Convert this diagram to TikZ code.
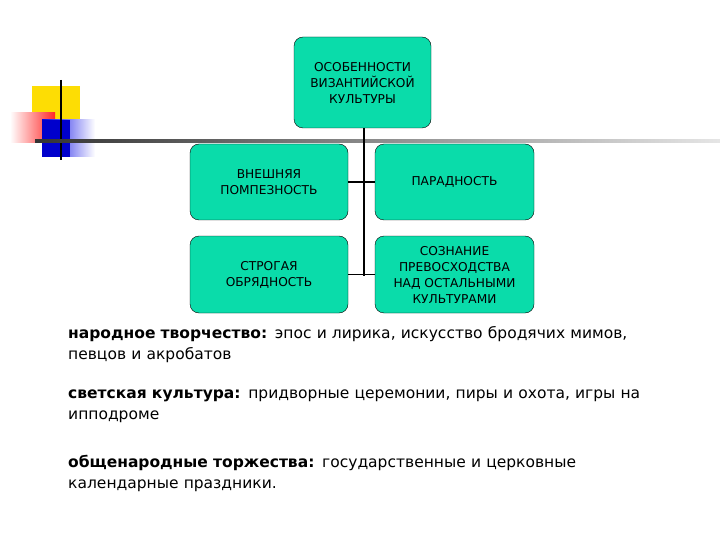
\documentclass[tikz,border=0pt]{standalone}
\usepackage{fontspec}
\setmainfont{DejaVu Sans}
\begin{document}
\begin{tikzpicture}[x=1pt,y=-1pt,
  bx/.style={draw=black,fill=teal!20!green!60!cyan!90!white,rounded corners=9pt,align=center,font=\fontsize{12.2}{16}\selectfont,inner sep=0pt},
  ln/.style={draw=black,line width=1.2pt},
  tx/.style={anchor=north west,align=left,text width=640pt,inner sep=0pt,font=\fontsize{15.5}{21}\selectfont}]
\definecolor{boxc}{RGB}{10,220,170}
\useasboundingbox (0,0) rectangle (720,540);
% decoration
\fill[yellow!80!orange] (32,86) rectangle (80,120);
\shade[left color=white,right color=red!85] (10,113) rectangle (55,143);
\shade[left color=blue!90!black,right color=white] (42,120) rectangle (95,157);
\fill[blue!80!black] (42,120) rectangle (70,157);
\draw[line width=1.5pt] (61,80) -- (61,160);
\shade[left color=black!80,right color=black!10] (35,140) rectangle (720,142.5);
% boxes
\node[bx,fill=boxc,minimum width=137pt,minimum height=91pt] (top) at (362.5,82.5) {ОСОБЕННОСТИ\\ВИЗАНТИЙСКОЙ\\КУЛЬТУРЫ};
\node[bx,fill=boxc,minimum width=158pt,minimum height=76pt] (a) at (269,182) {ВНЕШНЯЯ\\ПОМПЕЗНОСТЬ};
\node[bx,fill=boxc,minimum width=159pt,minimum height=76pt] (b) at (454.5,182) {ПАРАДНОСТЬ};
\node[bx,fill=boxc,minimum width=158pt,minimum height=77pt] (c) at (269,274.5) {СТРОГАЯ\\ОБРЯДНОСТЬ};
\node[bx,fill=boxc,minimum width=159pt,minimum height=77pt] (d) at (454.5,274.5) {СОЗНАНИЕ\\ПРЕВОСХОДСТВА\\НАД ОСТАЛЬНЫМИ\\КУЛЬТУРАМИ};
\coordinate (bot) at (364,276);
\draw[ln] (top.south -| bot) -- (bot);
\draw[ln] (a.east) -- (b.west);
\draw[ln] (c.east) -- (d.west);
% text
\node[tx] (t1) at (68,326) {\textbf{народное творчество:} эпос и лирика, искусство бродячих мимов,\\певцов и акробатов};
\node[tx] (t2) at (68,390) {\textbf{светская культура:} придворные церемонии, пиры и охота, игры на\\ипподроме};
\node[tx] (t3) at (68,455) {\textbf{общенародные торжества:} государственные и церковные\\календарные праздники.};
\end{tikzpicture}
\end{document}
